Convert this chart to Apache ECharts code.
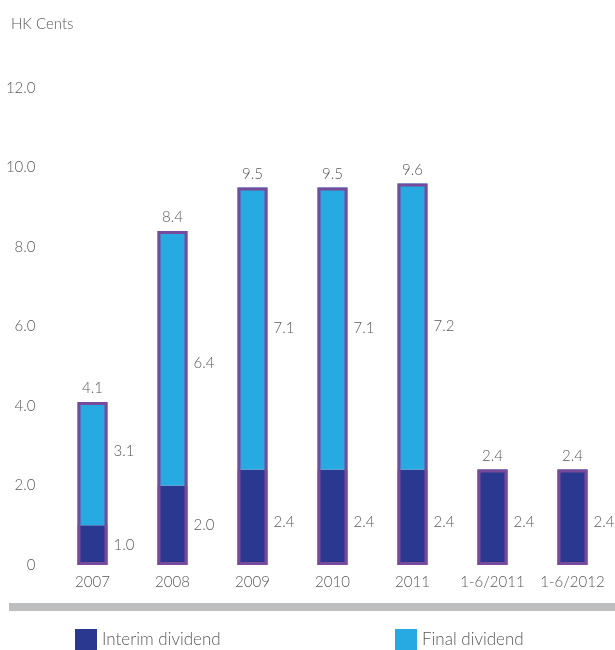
<!DOCTYPE html>
<html>
<head>
<meta charset="utf-8">
<script src="https://cdn.jsdelivr.net/npm/echarts@6/dist/echarts.min.js"></script>
<style>
  html, body { margin: 0; padding: 0; background: #fff; }
  #chart { width: 615px; height: 650px; }
</style>
</head>
<body>
<div id="chart"></div>
<script>
// Dividend per share, HK cents
const categories = ['2007', '2008', '2009', '2010', '2011', '1-6/2011', '1-6/2012'];
const interimDividend = [1.0, 2.0, 2.4, 2.4, 2.4, 2.4, 2.4];
const finalDividend = [3.1, 6.4, 7.1, 7.1, 7.2, null, null];
const totalDividend = [4.1, 8.4, 9.5, 9.5, 9.6, 2.4, 2.4];

// vertical nudges for the segment labels
const finalLabelShift = [-12, 5, 0, 0, 0, 0, 0];
const interimLabelShift = [0, 0, 5, 5, 5, 5, 5];

const FONT = 'Lato, "Open Sans", sans-serif';
const WEIGHT = 300;
const TEXT = '#58595b';
const INTERIM = '#2b388f';
const FINAL = '#27a9e1';
const OUTLINE = '#774a9b';

const fmt = p => (p.value == null ? '' : Number(p.value).toFixed(1));

const segLabel = shift => (v, i) => ({
  value: v,
  label: { offset: [0, shift[i]] }
});

const labelText = { color: TEXT, fontSize: 15, fontFamily: FONT, fontWeight: WEIGHT };
const legendText = { fontFamily: FONT, fontSize: 17, fontWeight: WEIGHT, color: TEXT };

const chart = echarts.init(document.getElementById('chart'));
chart.setOption({
  animation: false,
  textStyle: { fontFamily: FONT, fontWeight: WEIGHT },
  grid: { left: 52.5, right: 2.5, top: 88, bottom: 85, containLabel: false },
  title: {
    text: 'HK Cents',
    left: 6, top: 12,
    textStyle: { fontFamily: FONT, fontSize: 15, fontWeight: WEIGHT, color: TEXT }
  },
  legend: [
    {
      data: ['Interim dividend'],
      left: 75, top: 629, padding: 0,
      itemWidth: 22, itemHeight: 22, itemGap: 6,
      icon: 'rect',
      textStyle: legendText
    },
    {
      data: ['Final dividend'],
      left: 395, top: 629, padding: 0,
      itemWidth: 22, itemHeight: 22, itemGap: 6,
      icon: 'rect',
      textStyle: legendText
    }
  ],
  xAxis: {
    type: 'category',
    data: categories,
    axisLine: { show: false },
    axisTick: { show: false },
    axisLabel: Object.assign({ margin: 10, interval: 0 }, labelText)
  },
  yAxis: {
    type: 'value',
    min: 0, max: 12, interval: 2,
    splitLine: { show: false },
    axisLine: { show: false },
    axisTick: { show: false },
    axisLabel: Object.assign({
      margin: 17,
      formatter: v => (v === 0 ? '0' : v.toFixed(1))
    }, labelText)
  },
  graphic: [
    {
      type: 'rect',
      shape: { x: 9, y: 603, width: 606, height: 8 },
      style: { fill: '#bcbec0' },
      silent: true
    }
  ],
  series: [
    {
      name: 'Interim dividend',
      type: 'bar',
      stack: 'dividend',
      barWidth: 30,
      data: interimDividend.map(segLabel(interimLabelShift)),
      itemStyle: { color: INTERIM },
      label: Object.assign({ show: true, position: 'right', distance: 6, formatter: fmt }, labelText)
    },
    {
      name: 'Final dividend',
      type: 'bar',
      stack: 'dividend',
      barWidth: 30,
      data: finalDividend.map(segLabel(finalLabelShift)),
      itemStyle: { color: FINAL },
      label: Object.assign({ show: true, position: 'right', distance: 6, formatter: fmt }, labelText)
    },
    {
      name: 'Total',
      type: 'bar',
      barWidth: 30,
      barGap: '-100%',
      z: 5,
      data: totalDividend,
      itemStyle: { color: 'rgba(0,0,0,0)', borderColor: OUTLINE, borderWidth: 3 },
      label: Object.assign({ show: true, position: 'top', distance: 6, formatter: fmt }, labelText)
    }
  ]
});
</script>
</body>
</html>
